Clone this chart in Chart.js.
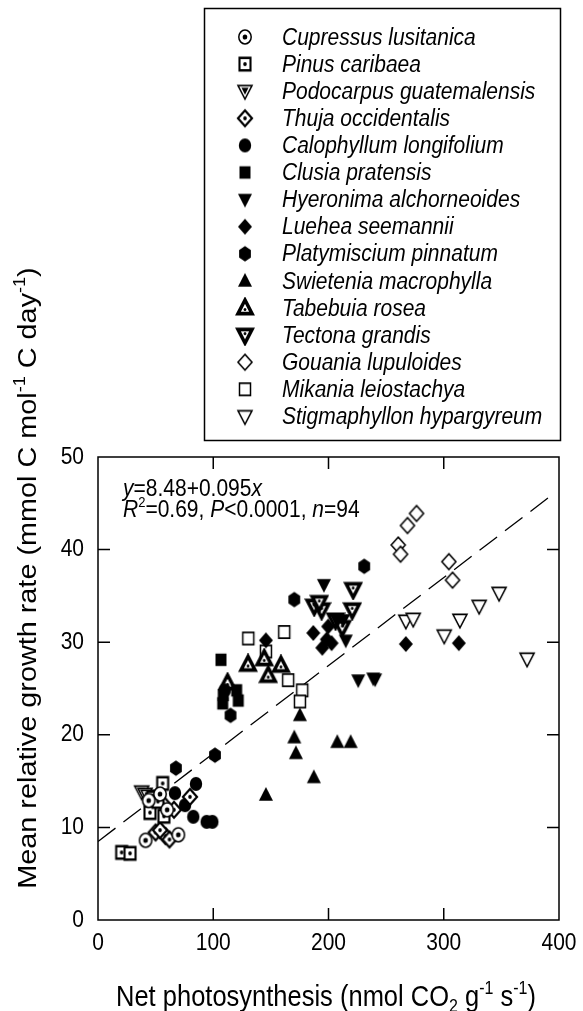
<!DOCTYPE html>
<html>
<head>
<meta charset="utf-8">
<script src="https://cdn.jsdelivr.net/npm/chart.js@4.4.1/dist/chart.umd.min.js"></script>
<style>
  html, body { margin: 0; padding: 0; background: #fff; }
  #wrap { width: 583px; height: 1011px; }
</style>
</head>
<body>
<div id="wrap"><canvas id="growthChart" width="583" height="1011"></canvas></div>
<script>
// species (legend order) and measured points [net photosynthesis, growth rate]
const speciesNames = [
    "Cupressus lusitanica", "Pinus caribaea", "Podocarpus guatemalensis", "Thuja occidentalis",
    "Calophyllum longifolium", "Clusia pratensis", "Hyeronima alchorneoides", "Luehea seemannii",
    "Platymiscium pinnatum", "Swietenia macrophylla", "Tabebuia rosea", "Tectona grandis",
    "Gouania lupuloides", "Mikania leiostachya", "Stigmaphyllon hypargyreum"
];

const cupressus = [[41.3, 8.6], [69.7, 9.2], [53.8, 13.6], [44, 12.9], [60, 11.9]];
const pinus = [[20.5, 7.3], [27.8, 7.2], [56.1, 14.75], [47.4, 13.2], [45.1, 11.6], [57.2, 11.2], [52, 12.8]];
const podocarpus = [[37.9, 13.85], [40.8, 13.6], [43.5, 13.4]];
const thuja = [[50, 9.45], [58.6, 9.06], [53.8, 9.7], [56.1, 12.6], [65.9, 11.9], [79.8, 13.3], [62, 8.7]];
const calophyllum = [[85, 14.7], [66.8, 13.7], [75.5, 12.4], [82.7, 11.15], [94.3, 10.6], [99.2, 10.6], [110, 24.8]];
const clusia = [[106.7, 28.1], [108.7, 24.3], [120.3, 24.8], [121.7, 23.7], [108.2, 23.4]];
const hyeronima = [[196, 36.2], [215, 30.2], [207, 32.4], [212.7, 32.4], [225.8, 25.9], [238.8, 26.1], [240.5, 26.0]];
const luehea = [[186.8, 31.0], [199.7, 31.7], [194.6, 29.4], [202.7, 29.9], [145.7, 30.2], [267.1, 29.8], [313.1, 29.9], [198.5, 30.3]];
const platymiscium = [[67.6, 16.4], [101.5, 17.8], [170.3, 34.6], [231, 38.2], [115, 22.1]];
const swietenia = [[175.2, 22.1], [170.3, 19.7], [171.7, 18.0], [187.3, 15.4], [145.7, 13.5], [207.6, 19.2], [219.2, 19.2]];
const tabebuia = [[130.2, 27.6], [147.7, 26.4], [158.7, 27.5], [112.4, 25.6], [144.2, 28.2]];
const tectona = [[221.4, 35.7], [220.6, 33.5], [187.6, 33.9], [194, 33.5], [211.9, 31.6], [206.1, 32.4], [192, 34.3]];
const gouania = [[276.4, 43.9], [268.5, 42.6], [260.5, 40.5], [262.5, 39.5], [304.4, 38.7], [307.6, 36.7]];
const mikania = [[130.4, 30.4], [145.7, 29.0], [161.6, 31.1], [165, 25.9], [177.2, 24.8], [175.2, 23.6]];
const stigmaphyllon = [[267.1, 32.3], [273.5, 32.5], [314, 32.4], [300.4, 30.7], [330.7, 33.9], [348, 35.3], [372.3, 28.2]];

const speciesPoints = [cupressus, pinus, podocarpus, thuja, calophyllum, clusia, hyeronima, luehea,
    platymiscium, swietenia, tabebuia, tectona, gouania, mikania, stigmaphyllon];

// regression line y = 8.48 + 0.095x, drawn over the fitted range
const fitX = [0, 395];
const fitY = [8.48, 46.0];

const xTicks = [0, 100, 200, 300, 400];
const yTicks = [0, 10, 20, 30, 40, 50];

const FONT = "'Liberation Sans', Arial, sans-serif";
const K = 1.13; // the original figure is a little taller than wide
const markerKinds = ["circleDot", "squareDot", "downTriHatch", "diamondDot", "circle", "square", "downTri",
    "diamond", "hexagon", "upTri", "upTriDot", "downTriDot", "diamondOpen", "squareOpen", "downTriOpen"];

function path(ctx, kind, c) {
    ctx.beginPath();
    if (kind === "circle") {
        ctx.arc(c, c, 6.2, 0, Math.PI * 2);
    } else if (kind === "square") {
        ctx.rect(c - 5.5, c - 5.5, 11, 11);
    } else if (kind === "diamond") {
        ctx.moveTo(c, c - 7); ctx.lineTo(c + 7, c); ctx.lineTo(c, c + 7); ctx.lineTo(c - 7, c); ctx.closePath();
    } else if (kind === "up") {
        ctx.moveTo(c, c - 7); ctx.lineTo(c + 7, c + 5); ctx.lineTo(c - 7, c + 5); ctx.closePath();
    } else if (kind === "down") {
        ctx.moveTo(c, c + 7); ctx.lineTo(c + 7, c - 5); ctx.lineTo(c - 7, c - 5); ctx.closePath();
    } else if (kind === "hexagon") {
        for (let i = 0; i < 6; i++) {
            const a = Math.PI / 6 + i * Math.PI / 3;
            ctx.lineTo(c + 6.8 * Math.cos(a), c + 6.8 * Math.sin(a));
        }
        ctx.closePath();
    }
}

function dot(ctx, x, y, r) {
    ctx.beginPath();
    ctx.arc(x, y, r, 0, Math.PI * 2);
    ctx.fillStyle = "#000";
    ctx.fill();
}

function makeMarker(kind) {
    const cv = document.createElement("canvas");
    cv.width = 20; cv.height = 22;
    const ctx = cv.getContext("2d");
    const c = 10;
    ctx.translate(0, 11);
    ctx.scale(1, K);
    ctx.translate(0, -10);
    ctx.strokeStyle = "#000";
    ctx.fillStyle = "#000";
    ctx.lineJoin = "miter";
    const shape = { circleDot: "circle", squareDot: "square", diamondDot: "diamond", downTriHatch: "down",
        circle: "circle", square: "square", downTri: "down", diamond: "diamond", hexagon: "hexagon",
        upTri: "up", upTriDot: "up", downTriDot: "down", diamondOpen: "diamond", squareOpen: "square",
        downTriOpen: "down" }[kind];
    const filled = ["circle", "square", "downTri", "diamond", "hexagon", "upTri"].includes(kind);
    if (filled) {
        path(ctx, shape, c);
        ctx.fill();
        return cv;
    }
    path(ctx, shape, c);
    ctx.fillStyle = "#fff";
    ctx.fill();
    let lw = 1.5;
    if (kind === "upTriDot" || kind === "downTriDot") lw = 3.4;
    if (kind === "squareDot" || kind === "diamondDot") lw = 2.1;
    ctx.lineWidth = lw;
    ctx.stroke();
    if (kind === "circleDot") {
        dot(ctx, c, c, 2.3);
    } else if (kind === "squareDot" || kind === "diamondDot") {
        dot(ctx, c, c, 1.8);
    } else if (kind === "upTriDot") {
        dot(ctx, c, c + 1.3, 1.4);
    } else if (kind === "downTriDot") {
        dot(ctx, c, c - 1.3, 1.4);
    } else if (kind === "downTriHatch") {
        ctx.beginPath();
        ctx.moveTo(c, c + 3); ctx.lineTo(c + 3.5, c - 3); ctx.lineTo(c - 3.5, c - 3); ctx.closePath();
        ctx.fillStyle = "#000";
        ctx.fill();
    }
    return cv;
}

const markers = markerKinds.map(makeMarker);

// text with italic / superscript / subscript pieces, stretched like the original
function drawRich(ctx, segs, x, y, size, align, opts = {}) {
    const fontFor = s => (s.i ? "italic " : "") + (s.sup || s.sub ? Math.round(size * 0.62) : size) + "px " + FONT;
    let total = 0;
    segs.forEach(s => { ctx.font = fontFor(s); total += ctx.measureText(s.t).width; });
    ctx.save();
    ctx.translate(x, y);
    if (opts.rotate) {
        ctx.rotate(-Math.PI / 2);
        ctx.scale(K, 1);
    } else {
        ctx.scale(1, K);
    }
    let cx = align === "center" ? -total / 2 : (align === "right" ? -total : 0);
    ctx.textAlign = "left";
    ctx.textBaseline = opts.baseline || "alphabetic";
    ctx.fillStyle = "#000";
    segs.forEach(s => {
        ctx.font = fontFor(s);
        const dy = s.sup ? -size * 0.42 : (s.sub ? size * 0.22 : 0);
        ctx.fillText(s.t, cx, dy);
        cx += ctx.measureText(s.t).width;
    });
    ctx.restore();
}

const decorPlugin = {
    id: "decor",
    afterDraw(chart) {
        const ctx = chart.ctx;
        const a = chart.chartArea;
        const xs = chart.scales.x, ys = chart.scales.y;
        ctx.save();
        // frame + inward ticks
        ctx.strokeStyle = "#000";
        ctx.lineWidth = 1.5;
        ctx.strokeRect(a.left, a.top, a.right - a.left, a.bottom - a.top);
        ctx.beginPath();
        xs.ticks.forEach(t => {
            if (t.value <= xs.min || t.value >= xs.max) return;
            const px = xs.getPixelForValue(t.value);
            ctx.moveTo(px, a.bottom); ctx.lineTo(px, a.bottom - 12);
            ctx.moveTo(px, a.top); ctx.lineTo(px, a.top + 12);
        });
        ys.ticks.forEach(t => {
            if (t.value <= ys.min || t.value >= ys.max) return;
            const py = ys.getPixelForValue(t.value);
            ctx.moveTo(a.left, py); ctx.lineTo(a.left + 12, py);
            ctx.moveTo(a.right, py); ctx.lineTo(a.right - 12, py);
        });
        ctx.stroke();

        // tick labels
        xs.ticks.forEach(t => {
            drawRich(ctx, [{ t: String(t.value) }], xs.getPixelForValue(t.value), a.bottom + 23, 21, "center",
                { baseline: "middle" });
        });
        ys.ticks.forEach(t => {
            drawRich(ctx, [{ t: String(t.value) }], a.left - 14, ys.getPixelForValue(t.value), 21, "right",
                { baseline: "middle" });
        });

        // legend box
        ctx.lineWidth = 1.5;
        ctx.strokeRect(204.5, 8.5, 356, 432);
        speciesNames.forEach((name, i) => {
            const y = 37 + i * 27.1;
            const m = markers[i];
            ctx.drawImage(m, 245 - m.width / 2, y - m.height / 2);
            drawRich(ctx, [{ t: name, i: true }], 282, y + 1, 21, "left", { baseline: "middle" });
        });

        // regression annotation
        drawRich(ctx, [{ t: "y", i: true }, { t: "=8.48+0.095" }, { t: "x", i: true }], 123, 496, 21, "left");
        drawRich(ctx, [{ t: "R", i: true }, { t: "2", sup: true }, { t: "=0.69, " }, { t: "P", i: true },
            { t: "<0.0001, " }, { t: "n", i: true }, { t: "=94" }], 123, 517, 21, "left");

        // axis titles
        drawRich(ctx, [{ t: "Net photosynthesis (nmol CO" }, { t: "2", sub: true }, { t: " g" }, { t: "-1", sup: true },
            { t: " s" }, { t: "-1", sup: true }, { t: ")" }], 326, 1006, 25.5, "center");
        drawRich(ctx, [{ t: "Mean relative growth rate (mmol C mol" }, { t: "-1", sup: true }, { t: " C day" },
            { t: "-1", sup: true }, { t: ")" }], 36, 578, 25.5, "center", { rotate: true });
        ctx.restore();
    }
};

const datasets = speciesNames.map((name, i) => ({
    label: name,
    data: speciesPoints[i].map(([x, y]) => ({ x, y })),
    pointStyle: markers[i],
    pointRadius: 7,
    pointHoverRadius: 7,
    showLine: false
}));

datasets.push({
    label: "fit",
    type: "line",
    data: fitX.map((x, i) => ({ x, y: fitY[i] })),
    borderColor: "#000",
    borderWidth: 1.3,
    borderDash: [22, 10],
    pointRadius: 0,
    fill: false
});

new Chart(document.getElementById("growthChart").getContext("2d"), {
    type: "scatter",
    data: { datasets },
    options: {
        responsive: false,
        animation: false,
        layout: { padding: { top: 457, right: 24, left: 0, bottom: 0 } },
        plugins: { legend: { display: false }, tooltip: { enabled: false } },
        scales: {
            x: {
                type: "linear", min: 0, max: 400,
                afterBuildTicks: s => { s.ticks = xTicks.map(v => ({ value: v })); },
                ticks: { display: false },
                grid: { display: false, drawTicks: false },
                border: { display: false },
                afterFit: s => { s.height = 91; }
            },
            y: {
                type: "linear", min: 0, max: 50,
                afterBuildTicks: s => { s.ticks = yTicks.map(v => ({ value: v })); },
                ticks: { display: false },
                grid: { display: false, drawTicks: false },
                border: { display: false },
                afterFit: s => { s.width = 98; }
            }
        }
    },
    plugins: [decorPlugin]
});
</script>
</body>
</html>
